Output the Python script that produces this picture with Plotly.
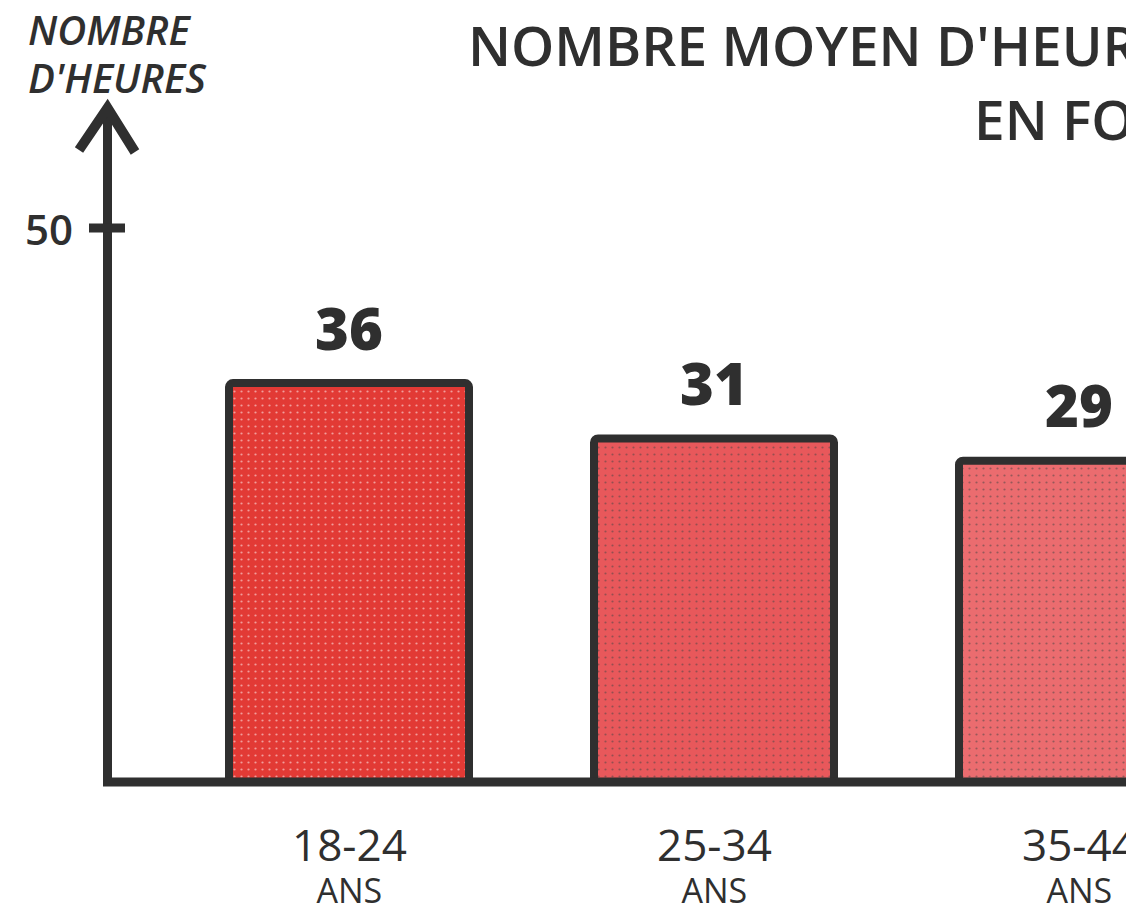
import plotly.graph_objects as go

# Average weekly hours by age group
age_groups = ["18-24", "25-34", "35-44"]
hours = [36, 31, 29]
bar_colors = ["#e23a35", "#e8585b", "#eb6c6f"]
speckle = ["rgba(255,255,255,0.7)", "rgba(255,255,255,0.45)", "rgba(255,255,255,0.35)"]
y_ticks = [50]

INK = "#2f2f2f"
FONT = "Open Sans"
W, H = 1126, 909
PLOT_TOP, PLOT_BOTTOM = 108, 782      # pixel rows of the plot area
AXIS_X = 107.5                         # pixel column of the vertical axis
SPACING, FIRST_CENTER, BAR_PX = 365, 349, 240

x0 = -FIRST_CENTER / SPACING
x1 = x0 + W / SPACING
y_max = 50 * (PLOT_BOTTOM - PLOT_TOP) / (PLOT_BOTTOM - 228)


def px(p):
    return p / W


def py(p):
    return (PLOT_BOTTOM - p) / (PLOT_BOTTOM - PLOT_TOP)


fig = go.Figure(
    go.Bar(
        x=list(range(len(age_groups))),
        y=hours,
        width=BAR_PX / SPACING,
        marker=dict(
            color=bar_colors,
            line=dict(color=INK, width=8),
            cornerradius=4,
            pattern=dict(shape=".", bgcolor=bar_colors, fgcolor=speckle,
                         size=7, solidity=0.08, fillmode="overlay"),
        ),
        hoverinfo="skip",
    )
)

annotations = []
for i, (g, v) in enumerate(zip(age_groups, hours)):
    annotations.append(dict(x=i, y=v, xref="x", yref="y", text=str(v), showarrow=False,
                            yanchor="middle", yshift=56,
                            font=dict(family=FONT, size=58, color=INK, weight=800)))
    annotations.append(dict(x=i, y=0, xref="x", yref="y",
                            text=f"<span style='font-size:44px'>{g}</span><br>"
                                 f"<span style='font-size:34px'>ANS</span>",
                            showarrow=False, yanchor="middle", yshift=-81,
                            font=dict(family=FONT, size=32, color=INK, weight=500)))

for t in y_ticks:
    annotations.append(dict(x=px(75), y=t, xref="paper", yref="y", text=str(t),
                            showarrow=False, xanchor="right", yanchor="middle",
                            font=dict(family=FONT, size=42, color=INK, weight=600)))

# axis title
annotations += [
    dict(x=px(110), y=py(30), xref="paper", yref="paper", text="<i>NOMBRE</i>",
         showarrow=False, xanchor="center", yanchor="middle",
         font=dict(family=FONT, size=40, color=INK, weight=600)),
    dict(x=px(117), y=py(77), xref="paper", yref="paper", text="<i>D'HEURES</i>",
         showarrow=False, xanchor="center", yanchor="middle",
         font=dict(family=FONT, size=40, color=INK, weight=600)),
]

# chart title
annotations += [
    dict(x=px(466), y=py(44), xref="paper", yref="paper",
         text="NOMBRE MOYEN D'HEURES PAR SEMAINE", showarrow=False,
         xanchor="left", yanchor="middle",
         font=dict(family=FONT, size=55, color=INK, weight=600)),
    dict(x=px(972), y=py(119), xref="paper", yref="paper",
         text="EN FONCTION DE L'ÂGE", showarrow=False,
         xanchor="left", yanchor="middle",
         font=dict(family=FONT, size=55, color=INK, weight=600)),
]

shapes = [
    # vertical axis and baseline
    dict(type="path", xref="paper", yref="paper",
         path=f"M {px(AXIS_X)},{py(PLOT_TOP + 4)} L {px(AXIS_X)},0 L 1,0",
         line=dict(color=INK, width=9)),
    # arrow head
    dict(type="path", xref="paper", yref="paper",
         path=f"M {px(79)},{py(150)} L {px(AXIS_X)},{py(PLOT_TOP)} L {px(135)},{py(152)}",
         line=dict(color=INK, width=10)),
]
for t in y_ticks:
    shapes.append(dict(type="line", xref="paper", yref="y", x0=px(89), x1=px(125),
                       y0=t, y1=t, line=dict(color=INK, width=9)))

fig.update_layout(
    width=W, height=H,
    margin=dict(l=0, r=0, t=PLOT_TOP, b=H - PLOT_BOTTOM, pad=0),
    paper_bgcolor="white", plot_bgcolor="white",
    showlegend=False,
    xaxis=dict(range=[x0, x1], visible=False, fixedrange=True),
    yaxis=dict(range=[0, y_max], visible=False, fixedrange=True),
    annotations=annotations,
    shapes=shapes,
)

fig.write_html("out.html")
